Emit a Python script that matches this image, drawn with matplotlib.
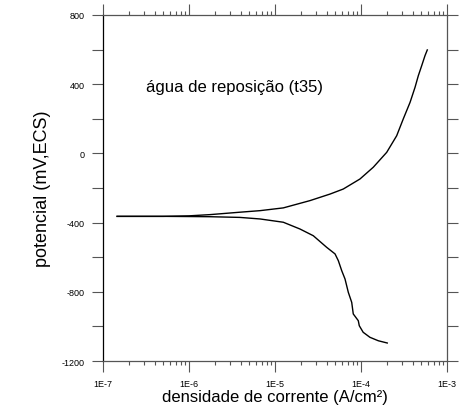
import numpy as np
import matplotlib
matplotlib.use("Agg")
import matplotlib.pyplot as plt
from matplotlib.ticker import LogLocator, MultipleLocator, FuncFormatter, NullFormatter

plt.rcParams['font.family'] = ['Liberation Sans', 'DejaVu Sans']

# --- data (current density in A/cm2, potential in mV) ---
# cathodic branch
cath_i = [1.46e-7, 5.0e-7, 1.0e-6, 1.75e-6, 3.9e-6, 6.7e-6, 1.25e-5, 1.95e-5, 2.79e-5,
          3.99e-5, 4.99e-5, 5.45e-5, 5.97e-5, 6.52e-5, 7.12e-5, 7.8e-5, 8.13e-5,
          9.3e-5, 9.55e-5, 1.06e-4, 1.27e-4, 1.59e-4, 2.02e-4]
cath_e = [-364, -364, -365, -366, -370, -379, -398, -437, -476,
          -543, -581, -620, -678, -726, -803, -861, -928,
          -967, -996, -1034, -1063, -1083, -1096]

# anodic branch
anod_i = [1.46e-7, 5.0e-7, 1.0e-6, 1.75e-6, 3.9e-6, 6.7e-6, 1.25e-5, 2.55e-5, 4.37e-5,
          6.22e-5, 9.73e-5, 1.39e-4, 1.99e-4, 2.6e-4, 3.1e-4, 3.72e-4, 4.25e-4,
          4.64e-4, 5.08e-4, 5.55e-4, 5.9e-4]
anod_e = [-364, -364, -361, -354, -340, -331, -315, -273, -235,
          -206, -148, -80, 6, 102, 199, 295, 382,
          449, 507, 565, 598]

fig = plt.figure(figsize=(4.77, 4.14), dpi=100)
ax = fig.add_axes([0.2159, 0.1256, 0.7212, 0.8358])

ax.plot(cath_i, cath_e, color='black', linewidth=1.0)
ax.plot(anod_i, anod_e, color='black', linewidth=1.0)

ax.set_xscale('log')
ax.set_xlim(1e-7, 1e-3)
ax.set_ylim(-1200, 800)

ax.xaxis.set_major_locator(LogLocator(base=10, numticks=10))
ax.xaxis.set_minor_locator(LogLocator(base=10, subs=np.arange(2, 10), numticks=20))
ax.xaxis.set_major_formatter(FuncFormatter(lambda v, p: "1E%d" % int(round(np.log10(v)))))
ax.xaxis.set_minor_formatter(NullFormatter())

ax.yaxis.set_major_locator(MultipleLocator(200))
ax.yaxis.set_major_formatter(FuncFormatter(lambda v, p: "%d" % v if int(round(v)) % 400 == 0 else ""))

gray = '#555555'
ax.tick_params(axis='both', which='major', direction='out', length=8, width=0.8,
               color=gray, labelsize=6.5, pad=5, top=True, right=True)
ax.tick_params(axis='x', which='minor', direction='out', length=3, width=0.8,
               color=gray, top=True)
ax.tick_params(axis='y', which='minor', left=False, right=False)

for side in ['top', 'bottom', 'right']:
    ax.spines[side].set_color(gray)
ax.spines['left'].set_color('black')
for sp in ax.spines.values():
    sp.set_linewidth(0.9)

ax.text(3.16e-7, 384, "água de reposição (t35)", fontsize=12, va='center', ha='left')

ax.set_xlabel("densidade de corrente (A/cm²)", fontsize=12, labelpad=1)
ax.set_ylabel("potencial (mV,ECS)", fontsize=13, labelpad=8)

fig.savefig("out.png", dpi=100)
